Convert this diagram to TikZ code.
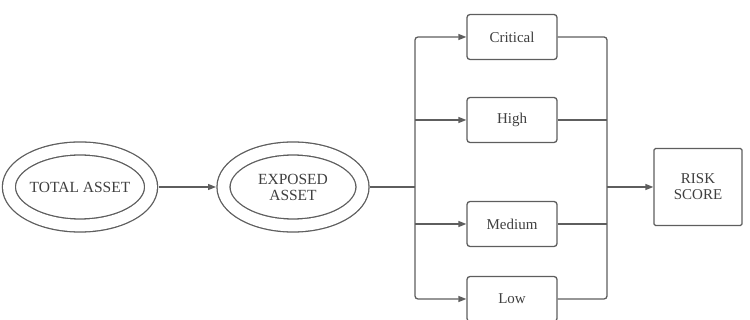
\documentclass[tikz,border=0pt]{standalone}
\usepackage{fontspec}
\setmainfont{Liberation Serif}
\usetikzlibrary{arrows.meta,shapes.geometric}
\definecolor{linegray}{HTML}{5E5E5E}
\definecolor{textgray}{HTML}{3F3F3F}
\tikzset{
  wire/.style={draw=linegray,line width=1.3pt},
  arrowwire/.style={wire,-{Triangle[length=8pt,width=6pt]}},
  assetring/.style={ellipse,draw=linegray,line width=1.3pt,double,double distance=11.7pt,
    minimum width=139pt,minimum height=77pt,inner sep=0pt,outer sep=7.5pt,
    text=textgray,align=center,font=\fontsize{15.5}{17}\selectfont},
  level/.style={rectangle,draw=linegray,line width=1.3pt,rounded corners=3pt,
    minimum width=90pt,minimum height=45pt,inner sep=0pt,text=textgray,
    font=\fontsize{15}{17}\selectfont},
  scorebox/.style={level,minimum width=88pt,minimum height=77pt,rounded corners=1.5pt,align=center}
}
\begin{document}
\begin{tikzpicture}[x=1pt,y=-1pt]
\useasboundingbox (0,0) rectangle (750,320);
\node[assetring] (total) at (80,187) {TOTAL ASSET};
\node[assetring] (exposed) at (293,187) {EXPOSED\\[-1pt]ASSET};
\node[scorebox] (risk) at (698,187) {RISK\\[-1pt]SCORE};
\coordinate (split) at (415,187);
\coordinate (join) at (607,187);
\foreach \name/\txt/\y in {crit/Critical/37,high/High/120,med/Medium/224,low/Low/299}
  \node[level] (\name) at (512,\y) {\txt};
\draw[arrowwire] (total) -- (exposed);
\draw[wire] (exposed) -- (split);
\draw[arrowwire,rounded corners=3pt] (split) |- (crit);
\draw[arrowwire,rounded corners=3pt] (split) |- (low);
\draw[wire,rounded corners=3pt] (crit) -| (join);
\draw[wire,rounded corners=3pt] (low) -| (join);
\foreach \name in {high,med}
{
\draw[arrowwire] (split |- \name.west) -- (\name);
\draw[wire] (\name) -- (join |- \name.east);
}
\draw[arrowwire] (join) -- (risk);
\end{tikzpicture}
\end{document}
